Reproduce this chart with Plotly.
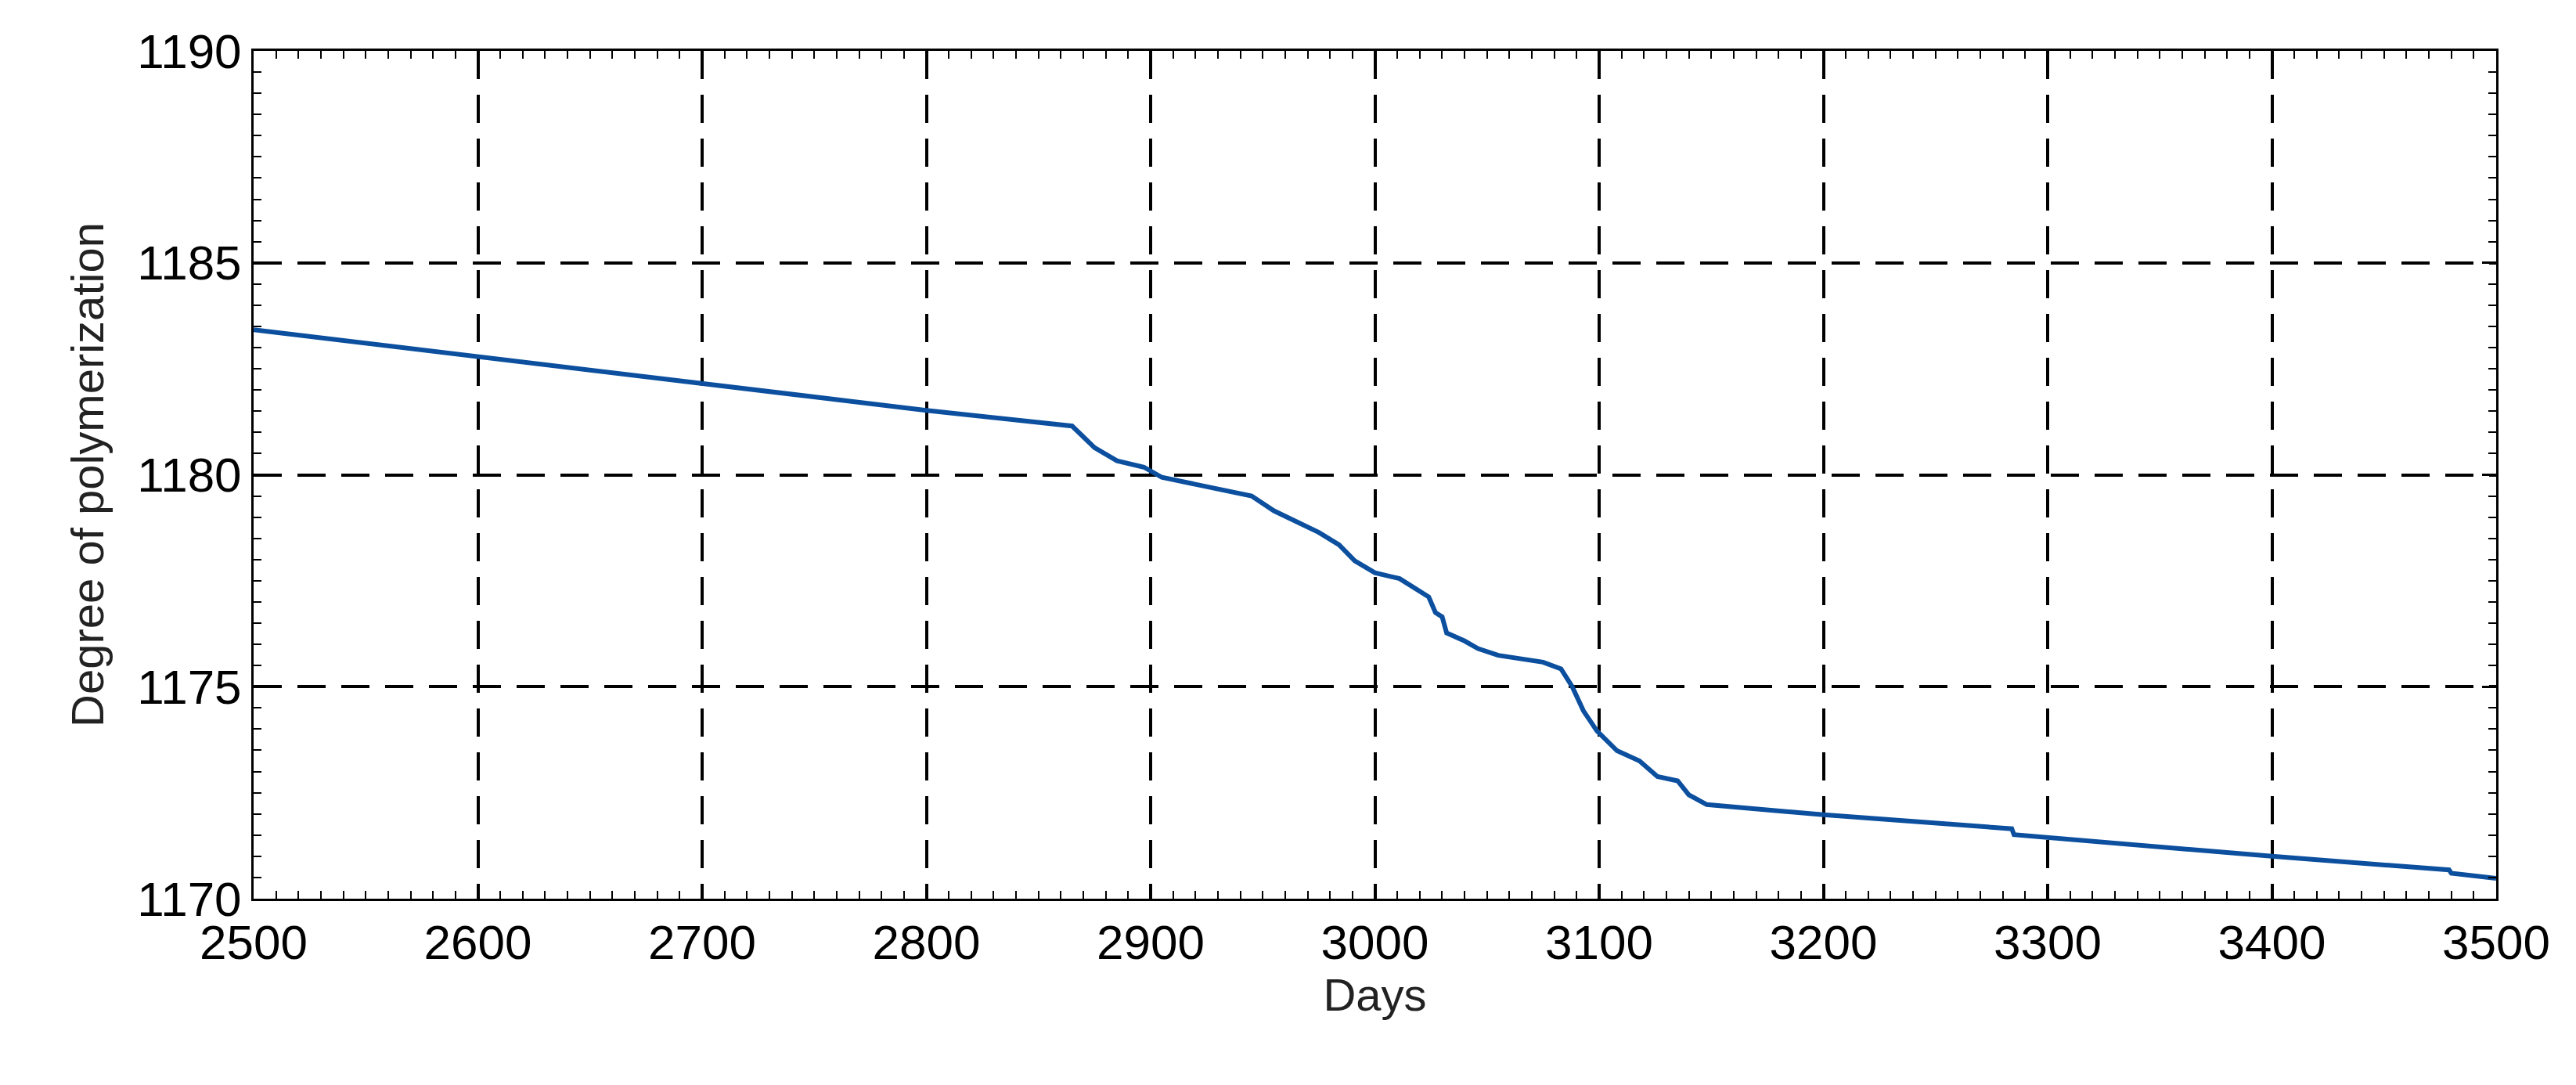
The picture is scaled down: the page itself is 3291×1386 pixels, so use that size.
import plotly.graph_objects as go

# days and degree of polymerization
days = [2500, 2600, 2700, 2800, 2865, 2875, 2885, 2897, 2905, 2945, 2955, 2975,
        2984, 2991, 3000, 3011, 3024, 3027, 3030, 3032, 3040, 3046, 3055, 3075,
        3083, 3088, 3093, 3099, 3108, 3118, 3126, 3135, 3140, 3148, 3200, 3284,
        3285, 3369, 3400, 3479, 3480, 3500]
dp = [1183.42, 1182.79, 1182.15, 1181.52, 1181.15, 1180.64, 1180.33, 1180.18,
      1179.94, 1179.5, 1179.15, 1178.64, 1178.35, 1177.97, 1177.69, 1177.55,
      1177.12, 1176.75, 1176.65, 1176.27, 1176.08, 1175.9, 1175.74, 1175.58,
      1175.42, 1175.0, 1174.43, 1173.96, 1173.49, 1173.25, 1172.88, 1172.78,
      1172.45, 1172.22, 1171.98, 1171.65, 1171.51, 1171.13, 1171.0, 1170.68,
      1170.6, 1170.48]

font = "Liberation Sans, Arial, sans-serif"

fig = go.Figure()
fig.add_trace(go.Scatter(x=days, y=dp, mode="lines",
                         line=dict(color="#0b4f9e", width=6), showlegend=False))

axis_common = dict(
    showline=True, linecolor="black", linewidth=3, mirror="allticks",
    ticks="inside", ticklen=18, tickwidth=3, tickcolor="black",
    showgrid=True, gridcolor="black", gridwidth=4, griddash="36px,20px",
    zeroline=False, tickfont=dict(size=62, color="black", family=font),
)

fig.update_xaxes(range=[2500, 3500], dtick=100, title=dict(text="Days", standoff=6,
                 font=dict(size=58, color="#222", family=font)),
                 minor=dict(dtick=10, ticks="inside", ticklen=10, tickwidth=2,
                            tickcolor="black", showgrid=False),
                 **axis_common)
fig.update_yaxes(range=[1170, 1190], dtick=5,
                 title=dict(text="Degree of polymerization", standoff=24,
                            font=dict(size=58, color="#222", family=font)),
                 minor=dict(dtick=0.5, ticks="inside", ticklen=10, tickwidth=2,
                            tickcolor="black", showgrid=False),
                 **axis_common)

fig.update_layout(width=3291, height=1386, plot_bgcolor="white", paper_bgcolor="white",
                  margin=dict(l=316, r=110, t=57, b=246))

fig.write_html("out.html")
